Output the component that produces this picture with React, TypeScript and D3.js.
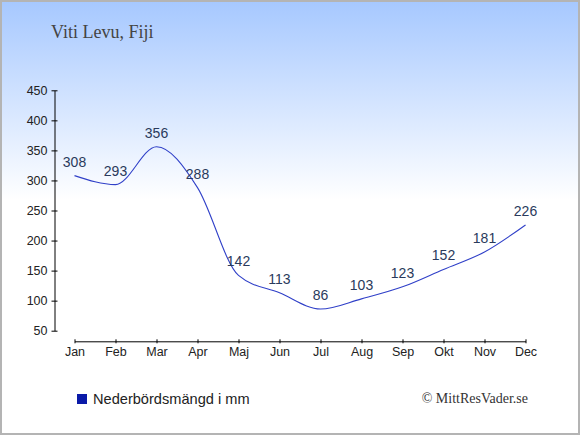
// @ts-nocheck
import React, {useRef, useEffect} from "react";
import * as d3 from "d3";

const months = ["Jan", "Feb", "Mar", "Apr", "Maj", "Jun", "Jul", "Aug", "Sep", "Okt", "Nov", "Dec"];
const rainfall = [308, 293, 356, 288, 142, 113, 86, 103, 123, 152, 181, 226];
const yTicks = [50, 100, 150, 200, 250, 300, 350, 400, 450];

const title = "Viti Levu, Fiji";
const legendLabel = "Nederbördsmängd i mm";
const credit = "© MittResVader.se";

const W = 580;
const H = 435;

export default function App() {
  const svgRef = useRef<SVGSVGElement>(null);

  useEffect(() => {
    if (!svgRef.current) return;
    const svg = d3.select(svgRef.current);
    svg.selectAll("*").remove();

    const sans = "Liberation Sans, Arial, sans-serif";
    const serif = "Liberation Serif, Times New Roman, serif";

    // background gradient
    const defs = svg.append("defs");
    const grad = defs
      .append("linearGradient")
      .attr("id", "bg")
      .attr("x1", 0)
      .attr("y1", 0)
      .attr("x2", 0)
      .attr("y2", 1);
    grad.append("stop").attr("offset", "0%").attr("stop-color", "#a6c8ff");
    grad.append("stop").attr("offset", "46%").attr("stop-color", "#ffffff");
    grad.append("stop").attr("offset", "100%").attr("stop-color", "#ffffff");

    svg
      .append("rect")
      .attr("x", 1)
      .attr("y", 1)
      .attr("width", W - 2)
      .attr("height", H - 2)
      .attr("fill", "url(#bg)")
      .attr("stroke", "#b4b4b4")
      .attr("stroke-width", 2);

    // title
    svg
      .append("text")
      .attr("x", 51)
      .attr("y", 38)
      .style("font-family", serif)
      .style("font-size", "18px")
      .style("fill", "#444")
      .text(title);

    // scales
    const x = d3.scaleLinear().domain([0, months.length - 1]).range([74.5, 525.5]);
    const y = d3.scaleLinear().domain([50, 450]).range([330.7, 90.3]);

    // y axis
    const yAxis = svg
      .append("g")
      .attr("transform", "translate(54.5,0)")
      .call(d3.axisLeft(y).tickValues(yTicks).tickSize(0).tickPadding(7));
    yAxis.select(".domain").attr("stroke", "#000");
    yAxis
      .selectAll(".tick")
      .append("line")
      .attr("x1", -3)
      .attr("x2", 3)
      .attr("stroke", "#000");
    yAxis
      .selectAll("text")
      .style("font-family", sans)
      .style("font-size", "12.5px")
      .style("fill", "#222");

    // x axis
    const xAxis = svg
      .append("g")
      .attr("transform", "translate(0,341.3)")
      .call(
        d3
          .axisBottom(x)
          .tickValues(d3.range(months.length))
          .tickFormat((i) => months[i])
          .tickSize(0)
          .tickPadding(6)
      );
    xAxis.select(".domain").attr("stroke", "#000");
    xAxis
      .selectAll(".tick")
      .append("line")
      .attr("y1", -2)
      .attr("y2", 2)
      .attr("stroke", "#000");
    xAxis
      .selectAll("text")
      .style("font-family", sans)
      .style("font-size", "12.5px")
      .style("fill", "#222");

    // line
    const line = d3
      .line<number>()
      .x((_, i) => x(i))
      .y((d) => y(d))
      .curve(d3.curveMonotoneX);

    svg
      .append("path")
      .datum(rainfall)
      .attr("d", line)
      .attr("fill", "none")
      .attr("stroke", "#3040c8")
      .attr("stroke-width", 1.1);

    // value labels
    svg
      .selectAll(".val")
      .data(rainfall)
      .join("text")
      .attr("class", "val")
      .attr("x", (_, i) => x(i))
      .attr("y", (d) => y(d) - 9)
      .attr("text-anchor", "middle")
      .style("font-family", sans)
      .style("font-size", "14px")
      .style("fill", "#2a3a5c")
      .text((d) => d);

    // legend
    svg
      .append("rect")
      .attr("x", 77)
      .attr("y", 394)
      .attr("width", 10)
      .attr("height", 10)
      .attr("fill", "#0a1aa8");
    svg
      .append("text")
      .attr("x", 93)
      .attr("y", 403.5)
      .style("font-family", sans)
      .style("font-size", "14.6px")
      .style("fill", "#222")
      .text(legendLabel);

    // credit
    svg
      .append("text")
      .attr("x", 528)
      .attr("y", 402.5)
      .attr("text-anchor", "end")
      .style("font-family", serif)
      .style("font-size", "14px")
      .style("fill", "#333")
      .text(credit);

    return () => {
      d3.select(svgRef.current).selectAll("*").remove();
    };
  }, []);

  return (
    <div style={{position: "fixed", left: 0, top: 0}}>
      <svg ref={svgRef} width={W} height={H} style={{display: "block"}} />
    </div>
  );
}
